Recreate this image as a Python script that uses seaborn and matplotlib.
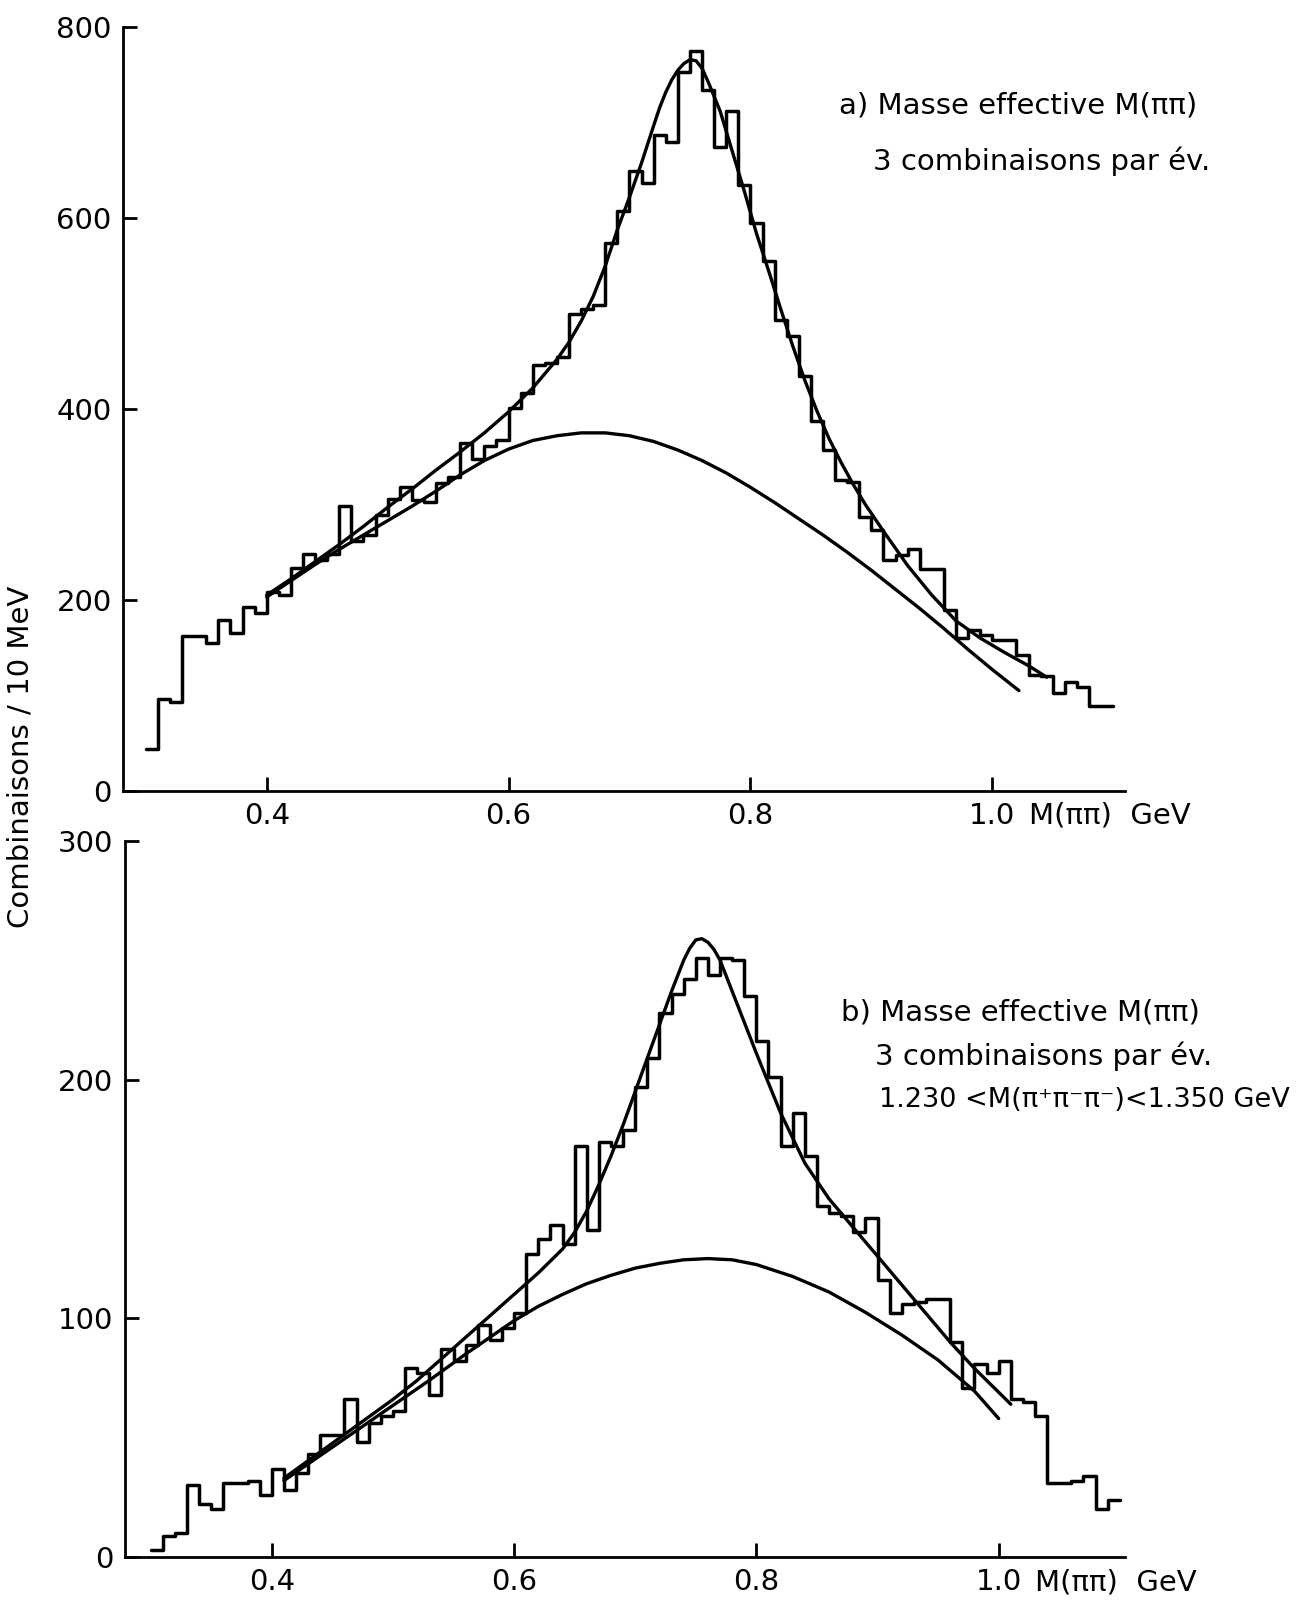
import numpy as np
import pandas as pd
import matplotlib
matplotlib.use("Agg")
import matplotlib.pyplot as plt
import seaborn as sns

# ---------------- data ----------------
bin_edges = [round(0.30 + 0.01 * i, 3) for i in range(81)]   # 10 MeV bins

counts_a = [44, 96, 93, 162, 162, 155, 179, 165, 193, 186,
            208, 205, 233, 248, 242, 248, 298, 262, 268, 289,
            306, 318, 305, 303, 322, 329, 364, 348, 361, 368,
            401, 417, 446, 448, 455, 500, 505, 509, 574, 607,
            649, 637, 687, 680, 753, 775, 734, 675, 712, 635,
            595, 555, 493, 477, 435, 387, 357, 326, 324, 287,
            273, 242, 247, 253, 232, 232, 189, 160, 168, 163,
            158, 158, 142, 121, 120, 102, 114, 109, 89, 89]

counts_b = [3, 9, 10, 30, 22, 20, 31, 31, 32, 26,
            37, 28, 35, 43, 51, 51, 66, 48, 56, 59,
            61, 79, 77, 68, 87, 82, 89, 97, 91, 96,
            102, 127, 133, 139, 131, 172, 137, 174, 172, 179,
            197, 209, 228, 236, 242, 251, 244, 251, 250, 235,
            216, 201, 172, 186, 168, 147, 144, 143, 136, 142,
            116, 102, 106, 107, 108, 108, 90, 71, 81, 77,
            82, 66, 65, 59, 31, 31, 32, 34, 20, 24]

# fitted curves
tot_a_m = [0.40, 0.42, 0.44, 0.46, 0.48, 0.50, 0.52, 0.54, 0.56, 0.58,
           0.60, 0.62, 0.64, 0.65, 0.66, 0.67, 0.68, 0.69, 0.70, 0.71,
           0.72, 0.725, 0.73, 0.735, 0.74, 0.745, 0.75, 0.755, 0.76,
           0.765, 0.775, 0.785, 0.795,
           0.805, 0.815, 0.825, 0.835, 0.845, 0.855, 0.865, 0.875, 0.885,
           0.895, 0.91, 0.93, 0.95, 0.97, 0.99, 1.01, 1.03, 1.045]
tot_a_v = [205, 222, 240, 258, 277, 297, 316, 336, 355, 375,
           397, 422, 452, 470, 492, 518, 550, 588, 622, 658,
           697, 716, 732, 745, 755, 762, 766, 765, 757,
           743, 712, 670, 628,
           584, 545, 505, 466, 430, 398, 369, 344, 321,
           300, 272, 236, 205, 178, 160, 145, 131, 119]

bg_a_m = [0.40, 0.42, 0.44, 0.46, 0.48, 0.50, 0.52, 0.54, 0.56, 0.58,
          0.60, 0.62, 0.64, 0.66, 0.68, 0.70, 0.72, 0.74, 0.76, 0.78,
          0.80, 0.82, 0.84, 0.86, 0.88, 0.90, 0.92, 0.94, 0.96, 0.98,
          1.00, 1.022]
bg_a_v = [203, 220, 237, 253, 268, 283, 298, 314, 331, 346,
          358, 367, 372, 375, 375, 372, 366, 357, 346, 333,
          318, 302, 285, 268, 250, 231, 211, 191, 170, 148,
          127, 105]

tot_b_m = [0.41, 0.44, 0.47, 0.50, 0.52, 0.54, 0.56, 0.58, 0.60, 0.62,
           0.64, 0.65, 0.66, 0.67, 0.68, 0.69, 0.70, 0.71, 0.72, 0.73,
           0.74, 0.745, 0.75, 0.755, 0.76, 0.765, 0.77, 0.78, 0.79, 0.80,
           0.82, 0.84, 0.86, 0.88, 0.90, 0.92, 0.94, 0.96, 0.98, 1.00, 1.01]
tot_b_v = [33, 44, 55, 66, 74, 83, 92, 101, 110, 119,
           129, 136, 145, 156, 168, 181, 195, 209, 223, 237,
           250, 255, 258.5, 259, 257.5, 254.5, 250, 237, 224, 211,
           186, 165, 150, 138, 126, 114, 102, 90, 79, 69, 64]

bg_b_m = [0.41, 0.44, 0.47, 0.50, 0.53, 0.56, 0.58, 0.60, 0.62, 0.64,
          0.66, 0.68, 0.70, 0.72, 0.74, 0.76, 0.78, 0.80, 0.83, 0.86,
          0.89, 0.92, 0.95, 0.98, 1.00]
bg_b_v = [32, 42.5, 53, 63.5, 74, 85, 92, 99, 105, 110,
          114.5, 118, 121, 123, 124.5, 125, 124.5, 122.5, 117.5, 111,
          102.5, 93, 82.5, 69.5, 58]

xticks = [0.4, 0.6, 0.8, 1.0]
xtick_labels = ["0.4", "0.6", "0.8", "1.0"]
yticks_a = [0, 200, 400, 600, 800]
yticks_b = [0, 100, 200, 300]

label_a = ["a) Masse effective M(ππ)", "3 combinaisons par év."]
label_b = ["b) Masse effective M(ππ)", "3 combinaisons par év.",
           "1.230 <M(π⁺π⁻π⁻)<1.350 GeV"]
ylabel = "Combinaisons / 10 MeV"
xunit = "M(ππ)  GeV"

# ---------------- style ----------------
sns.set_theme(style="ticks")
plt.rcParams["font.family"] = ["DejaVu Sans"]
plt.rcParams["text.color"] = "black"

fig = plt.figure(figsize=(13.02, 16.04), dpi=100)
fig.patch.set_facecolor("white")

ax_a = fig.add_axes([0.0943, 0.507, 0.770, 0.476])
ax_b = fig.add_axes([0.0958, 0.0293, 0.768, 0.4465])

centers = [round((bin_edges[i] + bin_edges[i + 1]) / 2, 4) for i in range(80)]


def draw_panel(ax, counts, tm, tv, bm, bv, yticks, xlim, ylim):
    hist_df = pd.DataFrame({"mass": centers, "n": counts})
    sns.histplot(data=hist_df, x="mass", weights="n", bins=bin_edges,
                 element="step", fill=False, color="black", linewidth=2.5,
                 ax=ax)
    tot_df = pd.DataFrame({"mass": tm, "n": tv})
    bg_df = pd.DataFrame({"mass": bm, "n": bv})
    sns.lineplot(data=tot_df, x="mass", y="n", color="black", linewidth=2.4,
                 ax=ax, estimator=None, sort=False)
    sns.lineplot(data=bg_df, x="mass", y="n", color="black", linewidth=2.4,
                 ax=ax, estimator=None, sort=False)
    ax.set_xlim(*xlim)
    ax.set_ylim(*ylim)
    ax.set_xticks(xticks)
    ax.set_xticklabels(xtick_labels)
    ax.set_yticks(yticks)
    ax.set_xlabel("")
    ax.set_ylabel("")
    ax.set_facecolor("white")
    sns.despine(ax=ax)
    for s in ("left", "bottom"):
        ax.spines[s].set_linewidth(2.0)
        ax.spines[s].set_color("black")
    ax.tick_params(axis="both", direction="in", length=10, width=2.0,
                   colors="black", labelsize=21, pad=8)
    ax.annotate(xunit, xy=(1.03, 0), xycoords=("data", "axes fraction"),
                xytext=(0, -8), textcoords="offset points",
                ha="left", va="top", fontsize=21, color="black")


draw_panel(ax_a, counts_a, tot_a_m, tot_a_v, bg_a_m, bg_a_v, yticks_a,
           (0.281, 1.110), (0, 800))
draw_panel(ax_b, counts_b, tot_b_m, tot_b_v, bg_b_m, bg_b_v, yticks_b,
           (0.2786, 1.104), (0, 300))

# annotations
ax_a.text(0.873, 718, label_a[0], fontsize=21, ha="left", va="center",
          color="black")
ax_a.text(0.901, 660, label_a[1], fontsize=21, ha="left", va="center",
          color="black")

ax_b.text(0.870, 228, label_b[0], fontsize=21, ha="left", va="center",
          color="black")
ax_b.text(0.898, 209.6, label_b[1], fontsize=21, ha="left", va="center",
          color="black")
ax_b.text(0.901, 191.6, label_b[2], fontsize=19.5, ha="left", va="center",
          color="black")

fig.text(0.0157, 0.528, ylabel, rotation=90, ha="center", va="center",
         fontsize=21, color="black")

fig.savefig("out.png", dpi=100, facecolor="white")
